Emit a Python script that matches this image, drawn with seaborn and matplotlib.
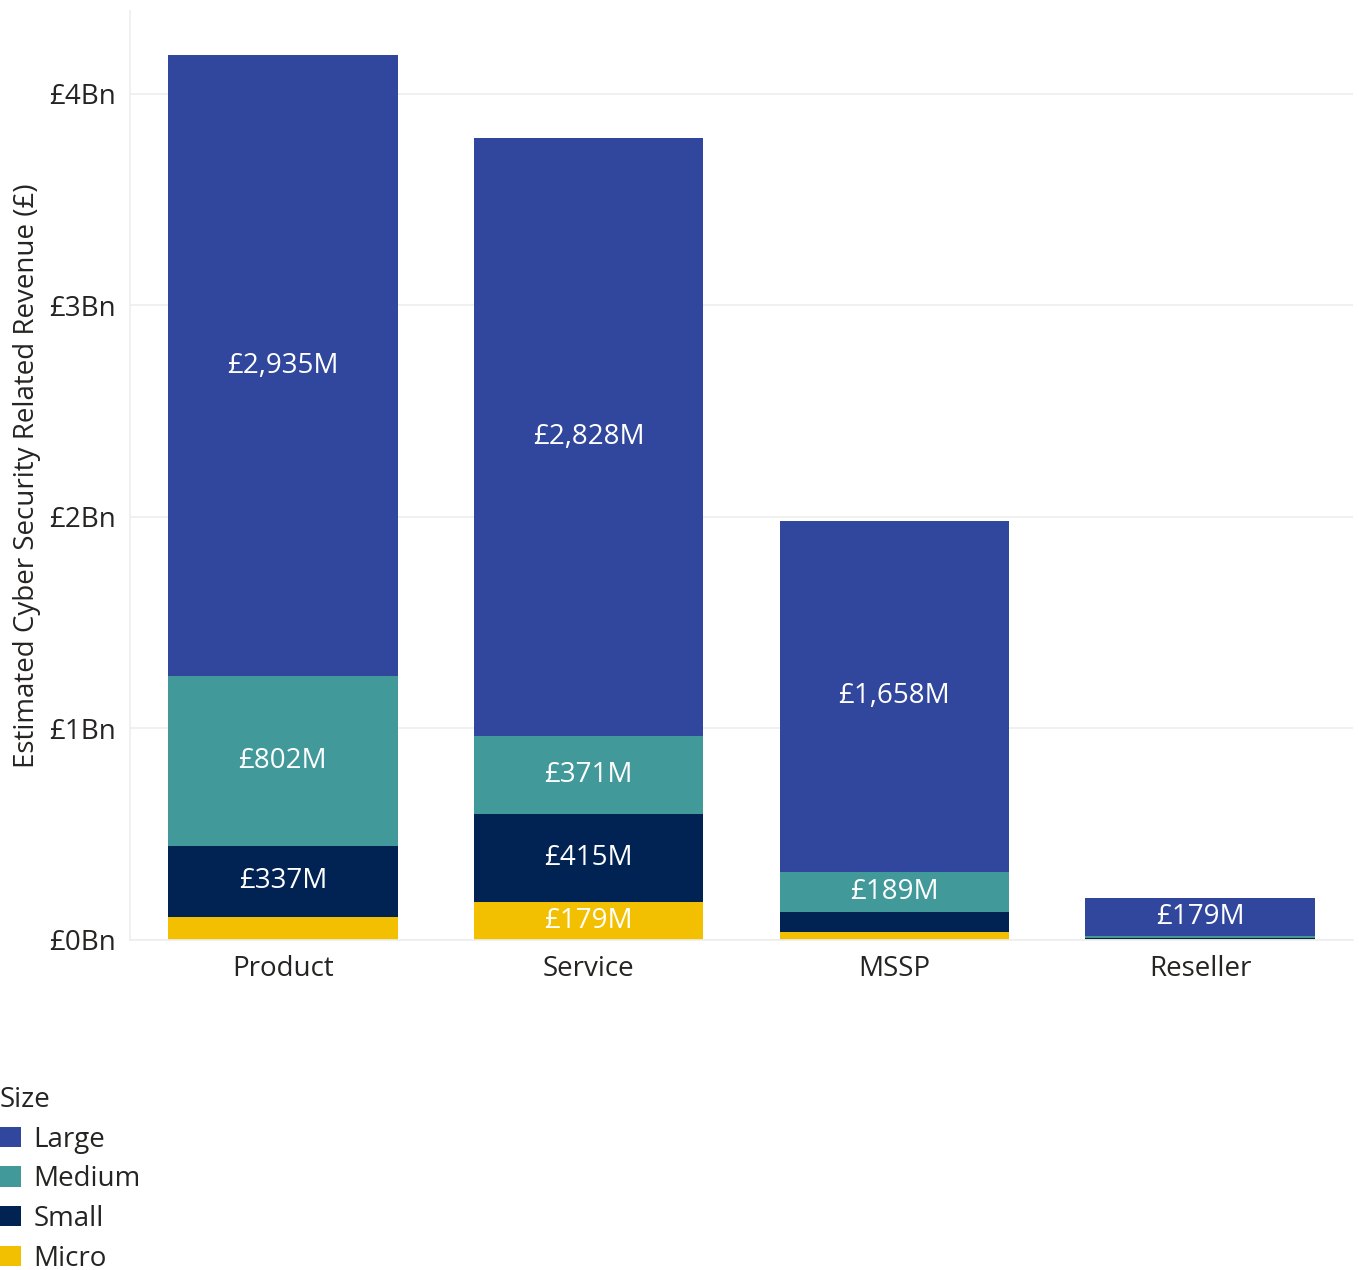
import matplotlib
matplotlib.use("Agg")
import matplotlib.pyplot as plt
from matplotlib.patches import Patch
from matplotlib.ticker import FuncFormatter, FixedLocator
import pandas as pd
import seaborn as sns

# Revenue by business type and company size, in £ millions
categories = ["Product", "Service", "MSSP", "Reseller"]
sizes = ["Large", "Medium", "Small", "Micro"]
large = [2935, 2828, 1658, 179]
medium = [802, 371, 189, 8]
small = [337, 415, 98, 6]
micro = [108, 179, 35, 3]
yticks = [0, 1000, 2000, 3000, 4000]

colors = {"Large": "#31479D", "Medium": "#42999A", "Small": "#012353", "Micro": "#F2C000"}
text_dark = "#252423"
grid_col = "#EDEDED"

values = {"Large": large, "Medium": medium, "Small": small, "Micro": micro}
rows = []
for s in sizes:
    for c, v in zip(categories, values[s]):
        rows.append({"Type": c, "Size": s, "Revenue": v})
df = pd.DataFrame(rows)
df["Type"] = pd.Categorical(df["Type"], categories=categories, ordered=True)

sns.set_theme(style="white")
plt.rcParams["font.family"] = ["Open Sans", "DejaVu Sans"]

fig = plt.figure(figsize=(13.59, 12.70), dpi=100)
ax = fig.add_axes([0.0957, 0.26, 0.8999, 0.731])

sns.histplot(data=df, x="Type", weights="Revenue", hue="Size", hue_order=sizes,
             multiple="stack", discrete=True, shrink=0.75, palette=colors,
             alpha=1, linewidth=0, legend=False, ax=ax)

# segment labels, centred in each stacked piece
for i, c in enumerate(categories):
    base = 0
    for s in ["Micro", "Small", "Medium", "Large"]:
        v = values[s][i]
        if v >= 150:
            ax.text(i, base + v / 2, f"£{v:,}M", ha="center", va="center",
                    color="white", fontsize=20)
        base += v

ax.set_xlim(-0.5, 3.5)
ax.set_ylim(0, 4390)
ax.yaxis.set_major_locator(FixedLocator(yticks))
ax.yaxis.set_major_formatter(FuncFormatter(lambda v, p: f"£{v / 1000:.0f}Bn"))
ax.set_xticks(range(len(categories)))
ax.set_xticklabels(categories)
ax.set_xticks([0.5, 1.5, 2.5], minor=True)
ax.tick_params(axis="x", which="major", length=0, pad=11, labelsize=20, labelcolor=text_dark)
ax.tick_params(axis="x", which="minor", length=6, color=grid_col, width=1.2)
ax.tick_params(axis="y", length=8, color=grid_col, width=1.2, pad=2,
               labelsize=20, labelcolor=text_dark)
ax.yaxis.grid(True, color=grid_col, linewidth=1.2)
ax.set_axisbelow(True)
ax.set_xlabel("")
ax.set_ylabel("Estimated Cyber Security Related Revenue (£)", fontsize=20,
              color=text_dark, labelpad=6)
for side in ["top", "right"]:
    ax.spines[side].set_visible(False)
for side in ["left", "bottom"]:
    ax.spines[side].set_color(grid_col)
    ax.spines[side].set_linewidth(1.2)

handles = [Patch(facecolor=colors[s], edgecolor="none", label=s) for s in sizes]
leg = fig.legend(handles=handles, title="Size", loc="upper left",
                 bbox_to_anchor=(0.0, 0.145), frameon=False, fontsize=20,
                 title_fontsize=20, handlelength=0.75, handleheight=0.75,
                 handletextpad=0.45, labelspacing=0.42, alignment="left",
                 borderpad=0, borderaxespad=0)
for t in leg.get_texts():
    t.set_color(text_dark)
leg.get_title().set_color(text_dark)

fig.savefig("out.png", dpi=100, facecolor="white")
